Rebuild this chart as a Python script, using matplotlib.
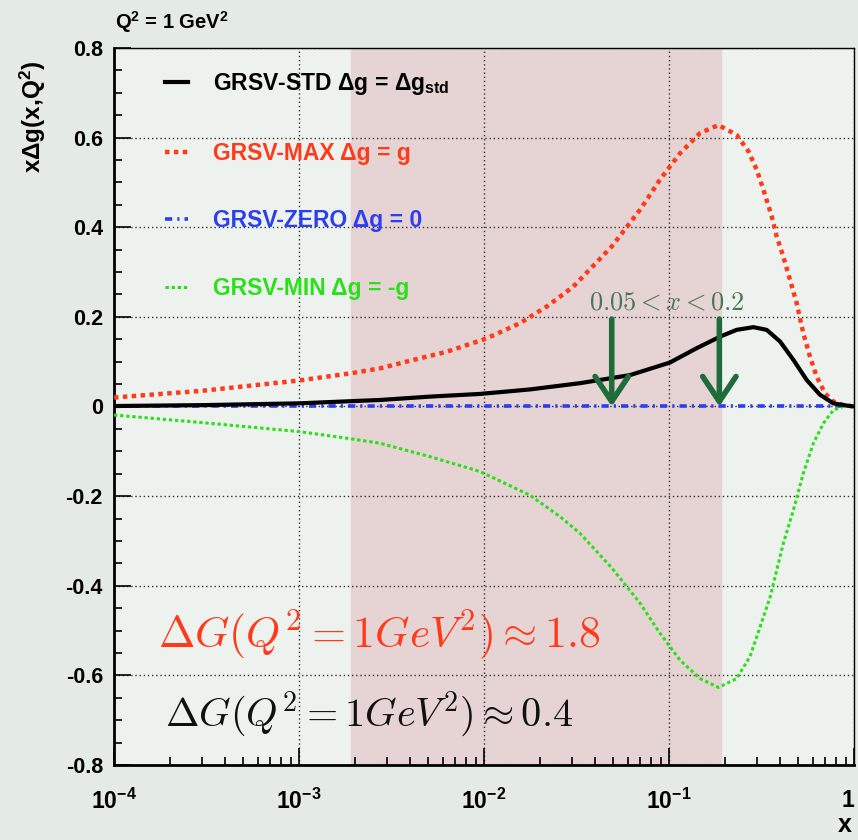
import matplotlib
matplotlib.use('Agg')
import matplotlib.pyplot as plt
from matplotlib.ticker import FixedLocator, NullFormatter

plt.rcParams['font.family'] = ['Liberation Sans', 'DejaVu Sans']
plt.rcParams['font.weight'] = 'bold'
plt.rcParams['mathtext.fontset'] = 'custom'
plt.rcParams['mathtext.rm'] = 'Liberation Sans:bold'
plt.rcParams['mathtext.bf'] = 'Liberation Sans:bold'
plt.rcParams['mathtext.it'] = 'Liberation Sans:bold'
plt.rcParams['mathtext.default'] = 'it'

# GRSV-STD
x_std = [1e-4, 3e-4, 1e-3, 0.00274, 0.0051, 0.0095, 0.0177, 0.033, 0.0615, 0.101, 0.141, 0.189,
         0.232, 0.286, 0.337, 0.398, 0.470, 0.555, 0.655, 0.773, 0.914, 1.0]
y_std = [0.001, 0.003, 0.007, 0.0145, 0.022, 0.028, 0.038, 0.052, 0.070, 0.098, 0.130, 0.156,
         0.171, 0.177, 0.171, 0.145, 0.104, 0.059, 0.026, 0.007, 0.002, 0.0]

# GRSV-MAX
x_max = [1e-4, 3e-4, 1e-3, 0.0019, 0.00274, 0.00415, 0.00628, 0.01034, 0.01567, 0.0218, 0.0303,
         0.049, 0.0697, 0.0893, 0.1146, 0.147, 0.185, 0.232, 0.269, 0.298, 0.324, 0.359, 0.382,
         0.415, 0.451, 0.490, 0.532, 0.578, 0.628, 0.697, 0.773, 0.875, 1.0]
y_max = [0.020, 0.035, 0.058, 0.074, 0.085, 0.104, 0.122, 0.152, 0.186, 0.223, 0.267,
         0.357, 0.439, 0.506, 0.565, 0.610, 0.628, 0.606, 0.569, 0.528, 0.483, 0.424, 0.379,
         0.334, 0.282, 0.230, 0.163, 0.111, 0.0665, 0.029, 0.011, 0.003, 0.0]

# GRSV-ZERO
x_zero = [1e-4, 1.0]
y_zero = [0.0, 0.0]

# GRSV-MIN
x_min = [1e-4, 3e-4, 1e-3, 0.0019, 0.00274, 0.0051, 0.0095, 0.0177, 0.0258, 0.033, 0.049, 0.0697,
         0.0893, 0.1146, 0.147, 0.185, 0.232, 0.274, 0.311, 0.352, 0.382, 0.415, 0.470, 0.532,
         0.603, 0.683, 0.773, 0.875, 1.0]
y_min = [-0.019, -0.036, -0.056, -0.072, -0.082, -0.112, -0.145, -0.198, -0.246, -0.283, -0.36, -0.439,
         -0.506, -0.566, -0.607, -0.627, -0.607, -0.558, -0.491, -0.425, -0.365, -0.305, -0.231, -0.149,
         -0.082, -0.0375, -0.008, 0.0, 0.0]

band = [0.0019, 0.19]
arrow_x = [0.049, 0.187]

fig = plt.figure(figsize=(8.58, 8.40), dpi=100, facecolor='#e4ebe7')
ax = fig.add_axes([0.1329, 0.0893, 0.8625, 0.8536])
ax.set_facecolor('#eef2ef')

ax.axvspan(band[0], band[1], color='#e6d3d3', zorder=0)

ax.plot(x_std, y_std, color='black', lw=3, label=r'GRSV-STD Δg = Δg$_{\mathbf{std}}$', zorder=5)
ax.plot(x_max, y_max, color='#ff3a1a', lw=3.2, ls=(0, (1, 1)), label='GRSV-MAX Δg = g', zorder=4)
ax.plot(x_zero, y_zero, color='#2b3ff0', lw=2.6, ls=(0, (2, 1.4, 0.6, 1.4)), label='GRSV-ZERO Δg = 0', zorder=4)
ax.plot(x_min, y_min, color='#2be01a', lw=2.2, ls=(0, (1.1, 0.9)), label='GRSV-MIN Δg = -g', zorder=4)

ax.set_xscale('log')
ax.set_xlim(1e-4, 1)
ax.set_ylim(-0.8, 0.8)

ax.xaxis.set_major_locator(FixedLocator([1e-4, 1e-3, 1e-2, 1e-1, 1]))
ax.xaxis.set_minor_locator(FixedLocator([m * 10.0 ** e for e in range(-4, 0) for m in range(2, 10)]))
ax.xaxis.set_minor_formatter(NullFormatter())
ax.set_xticklabels([r'$\mathbf{10^{-4}}$', r'$\mathbf{10^{-3}}$', r'$\mathbf{10^{-2}}$',
                    r'$\mathbf{10^{-1}}$', '1'])
ax.get_xticklabels()[-1].set_horizontalalignment('right')
ax.yaxis.set_major_locator(FixedLocator([-0.8, -0.6, -0.4, -0.2, 0, 0.2, 0.4, 0.6, 0.8]))
ax.yaxis.set_minor_locator(FixedLocator([i * 0.05 for i in range(-16, 17)]))
ax.set_yticklabels(['-0.8', '-0.6', '-0.4', '-0.2', '0', '0.2', '0.4', '0.6', '0.8'])

ax.tick_params(which='major', direction='in', length=12, width=1.2, labelsize=15.5, pad=8)
ax.tick_params(axis='x', which='major', pad=17, labelsize=16.5)
ax.tick_params(which='minor', direction='in', length=6, width=1.2)
for s in ['left', 'bottom']:
    ax.spines[s].set_linewidth(2)
for s in ['top', 'right']:
    ax.spines[s].set_linewidth(1)

ax.grid(True, which='major', color='#333333', lw=1, ls=(0, (1, 2)))
ax.set_axisbelow(True)

ax.legend(loc='upper left', bbox_to_anchor=(0.069, 0.968), frameon=False, fontsize=16.5,
          handlelength=1.0, handletextpad=1.1, labelspacing=1.95, borderpad=0, borderaxespad=0,
          labelcolor=['black', '#ff3a1a', '#2b3ff0', '#2be01a'])

# range arrows
for xa in arrow_x:
    ax.annotate('', xy=(xa, 0.0), xytext=(xa, 0.195),
                arrowprops=dict(arrowstyle='->,head_length=0.9,head_width=0.6', lw=4,
                                color='#1f6b3a', shrinkA=0, shrinkB=0, mutation_scale=20),
                zorder=6)
ax.text(0.098, 0.233, r'$0.05 < x < 0.2$', math_fontfamily='cm', fontsize=19,
        color='#4a7757', ha='center', va='center', zorder=6)

ax.text(0.060, 0.182, r'$\Delta G(Q^2=1GeV^2)\approx 1.8$', math_fontfamily='cm', fontsize=31.5,
        color='#ff3a1a', transform=ax.transAxes, ha='left', va='center', zorder=6)
ax.text(0.069, 0.071, r'$\Delta G(Q^2=1GeV^2)\approx 0.4$', math_fontfamily='cm', fontsize=29,
        color='#111111', transform=ax.transAxes, ha='left', va='center', zorder=6)

fig.text(0.0385, 0.861, r'xΔg(x,Q$^{\mathbf{2}}$)', rotation=90, ha='center', va='center', fontsize=17.5)
fig.text(115 / 858, 1 - 22 / 840, r'Q$^{\mathbf{2}}$ = 1 GeV$^{\mathbf{2}}$', ha='left', va='center', fontsize=14.5)
fig.text(845 / 858, 1 - 825 / 840, 'x', ha='center', va='center', fontsize=18)

fig.savefig('out.png', dpi=100, facecolor=fig.get_facecolor())
